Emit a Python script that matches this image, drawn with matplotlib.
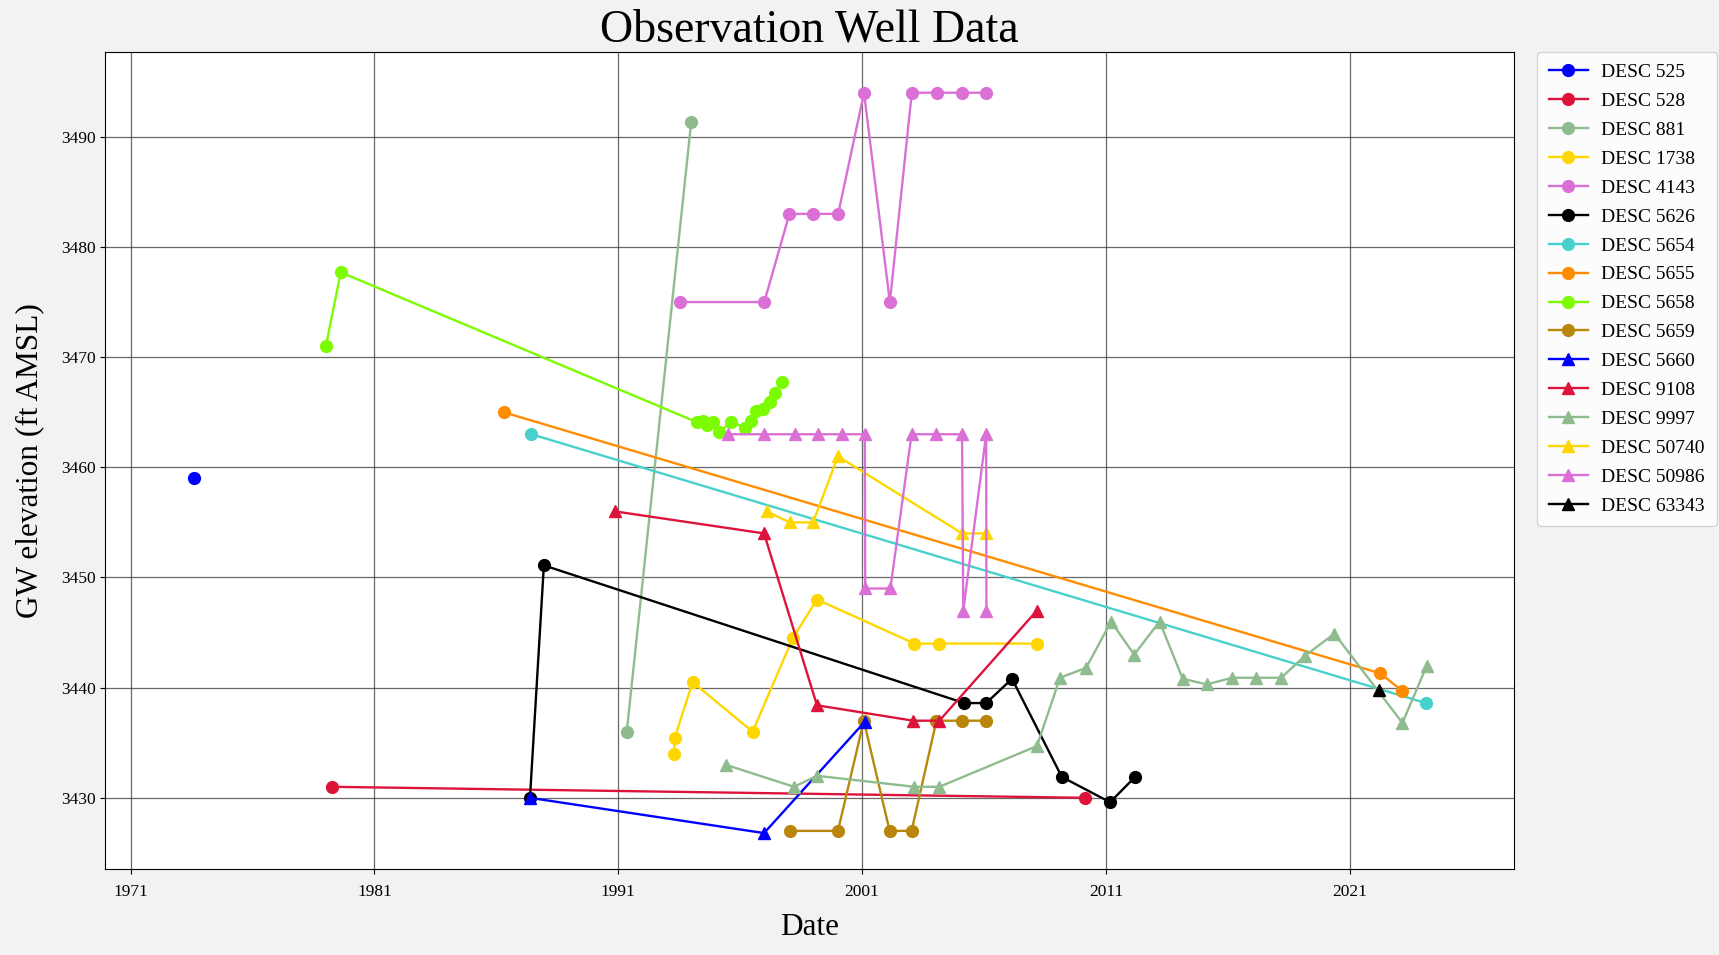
import matplotlib
matplotlib.use("Agg")
import matplotlib.pyplot as plt

# ---- data (decimal year, GW elevation ft AMSL) ----
desc525_x = [1973.59]
desc525_y = [3459.0]

desc528_x = [1979.27, 2010.15]
desc528_y = [3431.0, 3430.0]

desc881_x = [1991.35, 1993.99]
desc881_y = [3436.0, 3491.3]

desc1738_x = [1993.29, 1993.31, 1994.05, 1996.51, 1998.16, 1999.15, 2003.15, 2004.17, 2008.17]
desc1738_y = [3434.0, 3435.4, 3440.5, 3436.0, 3444.5, 3448.0, 3444.0, 3444.0, 3444.0]

desc4143_x = [1993.53, 1996.99, 1998.02, 1999.0, 2000.02, 2001.08, 2002.14, 2003.04, 2004.06, 2005.09, 2006.07]
desc4143_y = [3475, 3475, 3483, 3483, 3483, 3494, 3475, 3494, 3494, 3494, 3494]

desc5626_x = [1987.38, 1987.95, 2005.19, 2006.09, 2007.15, 2009.19, 2011.17, 2012.2]
desc5626_y = [3430.0, 3451.1, 3438.6, 3438.6, 3440.8, 3431.9, 3429.6, 3431.9]

desc5654_x = [1987.44, 2024.12]
desc5654_y = [3463.0, 3438.6]

desc5655_x = [1986.30, 2022.25, 2023.16]
desc5655_y = [3465.0, 3441.3, 3439.7]

desc5658_x = [1979.01, 1979.62, 1994.22, 1994.47, 1994.65, 1994.88, 1995.15, 1995.63,
              1996.21, 1996.43, 1996.65, 1996.95, 1997.23, 1997.43, 1997.71]
desc5658_y = [3471.0, 3477.7, 3464.1, 3464.2, 3463.8, 3464.1, 3463.2, 3464.1,
              3463.6, 3464.2, 3465.1, 3465.3, 3465.9, 3466.7, 3467.7]

desc5659_x = [1998.03, 2000.01, 2001.07, 2002.13, 2003.03, 2004.05, 2005.10, 2006.09]
desc5659_y = [3427, 3427, 3437, 3427, 3427, 3437, 3437, 3437]

desc5660_x = [1987.38, 1996.98, 2001.11]
desc5660_y = [3430.0, 3426.8, 3436.9]

desc9108_x = [1990.86, 1996.98, 1999.15, 2003.10, 2004.17, 2008.17]
desc9108_y = [3456.0, 3454.0, 3438.4, 3437.0, 3437.0, 3447.0]

desc9997_x = [1995.41, 1998.21, 1999.15, 2003.15, 2004.17, 2008.17, 2009.12, 2010.19, 2011.21,
              2012.16, 2013.2, 2014.15, 2015.14, 2016.19, 2017.15, 2018.19, 2019.17, 2020.37,
              2023.16, 2024.16]
desc9997_y = [3433, 3431, 3432, 3431, 3431, 3434.7, 3440.9, 3441.8, 3446,
              3443, 3446, 3440.8, 3440.3, 3440.9, 3440.9, 3440.9, 3442.9, 3444.9,
              3436.8, 3442]

desc50740_x = [1997.09, 1998.03, 1998.99, 2000.01, 2005.10, 2006.09]
desc50740_y = [3456, 3455, 3455, 3461, 3454, 3454]

desc50986_x = [1995.49, 1996.98, 1998.24, 1999.18, 2000.17, 2001.11, 2001.13, 2002.16,
               2003.03, 2004.05, 2005.10, 2005.15, 2006.09, 2006.10]
desc50986_y = [3463, 3463, 3463, 3463, 3463, 3463, 3449, 3449,
               3463, 3463, 3463, 3447, 3463, 3447]

desc63343_x = [2022.18]
desc63343_y = [3439.8]

series = [
    ("DESC 525", desc525_x, desc525_y, "blue", "o"),
    ("DESC 528", desc528_x, desc528_y, "crimson", "o"),
    ("DESC 881", desc881_x, desc881_y, "darkseagreen", "o"),
    ("DESC 1738", desc1738_x, desc1738_y, "gold", "o"),
    ("DESC 4143", desc4143_x, desc4143_y, "orchid", "o"),
    ("DESC 5626", desc5626_x, desc5626_y, "black", "o"),
    ("DESC 5654", desc5654_x, desc5654_y, "mediumturquoise", "o"),
    ("DESC 5655", desc5655_x, desc5655_y, "darkorange", "o"),
    ("DESC 5658", desc5658_x, desc5658_y, "lawngreen", "o"),
    ("DESC 5659", desc5659_x, desc5659_y, "darkgoldenrod", "o"),
    ("DESC 5660", desc5660_x, desc5660_y, "blue", "^"),
    ("DESC 9108", desc9108_x, desc9108_y, "crimson", "^"),
    ("DESC 9997", desc9997_x, desc9997_y, "darkseagreen", "^"),
    ("DESC 50740", desc50740_x, desc50740_y, "gold", "^"),
    ("DESC 50986", desc50986_x, desc50986_y, "orchid", "^"),
    ("DESC 63343", desc63343_x, desc63343_y, "black", "^"),
]

year_ticks = [1971, 1981, 1991, 2001, 2011, 2021]

plt.rcParams["font.family"] = ["Liberation Serif", "DejaVu Serif"]

fig = plt.figure(figsize=(17.19, 9.55), dpi=100, facecolor="#f2f2f2")
ax = fig.add_axes([0.0612, 0.0896, 0.8196, 0.8560])

for name, xs, ys, color, marker in series:
    ax.plot(xs, ys, color=color, marker=marker, linewidth=1.7, markersize=8.5, label=name)

ax.set_xlim(1969.96, 2027.74)
ax.set_ylim(3423.5, 3497.7)
ax.set_xticks(year_ticks)
ax.set_xticklabels([str(y) for y in year_ticks])
ax.tick_params(labelsize=12.5)
ax.tick_params(axis="x", pad=7)
ax.grid(True, color="#444444", linewidth=0.9, alpha=0.8)

ax.set_title("Observation Well Data", fontsize=33, pad=3)
ax.set_xlabel("Date", fontsize=22.5, labelpad=9)
ax.set_ylabel("GW elevation (ft AMSL)", fontsize=22.5, labelpad=12)

ax.legend(loc="upper left", bbox_to_anchor=(1.0163, 1.0), borderaxespad=0,
          fontsize=14, labelspacing=0.58, borderpad=0.6, handlelength=2.0,
          handletextpad=0.7)

fig.savefig("out.png", dpi=100, facecolor=fig.get_facecolor())
